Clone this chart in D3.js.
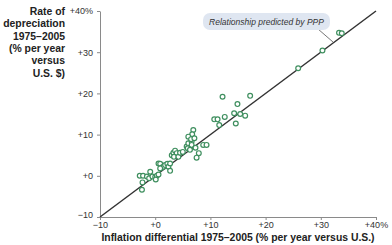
<!DOCTYPE html>
<html>
<head>
<meta charset="utf-8">
<script src="https://cdn.jsdelivr.net/npm/d3@7"></script>
<style>
  html, body { margin: 0; padding: 0; background: #fff; }
  svg { display: block; }
</style>
</head>
<body>
<div id="chart"></div>
<script>
// Inflation differential vs rate of depreciation, 1975-2005
const xTicks = [-10, 0, 10, 20, 30, 40];
const xTickLabels = ["\u221210", "+0", "+10", "+20", "+30", "+40%"];
const yTicks = [-10, 0, 10, 20, 30, 40];
const yTickLabels = ["\u221210", "+0", "+10", "+20", "+30", "+40%"];

// one entry per country (x = inflation differential, y = depreciation)
const inflationDiff = [
  -2.4, -2.3, -2.8, -2.2, -1.5, -0.9, -1.1, -0.5, 0.0, 0.3, 0.6, 0.1,
  0.6, 0.9, 1.2, 1.5, 1.8, 2.2, 2.4, 2.7, 2.7, 0.9,
  3.0, 3.3, 3.6, 3.9, 3.4, 4.2, 4.5, 5.0, 5.7, 6.0, 6.6,
  6.9, 6.7, 6.0, 6.5, 7.1, 6.6, 5.9, 7.3, 6.3, 8.7, 9.3, 7.9, 7.5,
  10.7, 11.3, 12.6, 14.3, 11.6, 12.2, 17.2, 14.9, 15.4, 16.3, 14.6,
  25.9, 30.3, 33.3, 33.8
];
const depreciation = [
  -3.4, -1.6, 0.0, 0.0, -0.2, 1.0, -0.6, -0.2, -0.3, 0.0, 0.3, -0.9,
  3.0, 2.9, 2.0, 2.2, 2.6, 2.9, 2.2, 3.0, 1.2, 1.8,
  5.0, 5.6, 6.1, 5.5, 4.6, 4.6, 5.6, 5.8, 7.1, 7.9, 8.3,
  11.1, 10.1, 9.5, 8.9, 9.1, 7.5, 6.7, 6.8, 6.3, 7.5, 7.5, 5.5, 4.4,
  13.7, 13.7, 14.3, 15.2, 12.3, 19.2, 19.4, 17.4, 15.0, 14.6, 12.7,
  26.1, 30.4, 34.7, 34.6
];

const yTitleLines = ["Rate of", "depreciation", "1975\u20132005", "(% per year", "versus", "U.S. $)"];
const xTitle = "Inflation differential 1975\u20132005 (% per year versus U.S.)";
const calloutText = "Relationship predicted by PPP";

const width = 392, height = 245;
const margin = { top: 11, right: 15, bottom: 28, left: 100 };

const svg = d3.select("#chart").append("svg")
  .attr("width", width)
  .attr("height", height);

const x = d3.scaleLinear().domain([-10, 40]).range([margin.left, width - margin.right - 1]);
const y = d3.scaleLinear().domain([-10, 40]).range([height - margin.bottom, margin.top]);

const font = "'Liberation Sans', Arial, sans-serif";

// axes
const xAxis = svg.append("g")
  .attr("transform", `translate(0,${y(-10)})`)
  .call(d3.axisBottom(x).tickValues(xTicks).tickSize(3).tickSizeOuter(0)
    .tickFormat((d, i) => xTickLabels[i]));
const yAxis = svg.append("g")
  .attr("transform", `translate(${x(-10)},0)`)
  .call(d3.axisLeft(y).tickValues(yTicks).tickSize(3).tickSizeOuter(0)
    .tickFormat((d, i) => yTickLabels[i]));

[xAxis, yAxis].forEach(g => {
  g.select(".domain").attr("stroke", "#8a8a8a").attr("stroke-width", 1);
  g.selectAll(".tick line").attr("stroke", "#8a8a8a");
  g.selectAll(".tick text")
    .attr("font-family", font)
    .attr("font-size", "9px")
    .attr("fill", "#333");
});
xAxis.selectAll(".tick text").attr("dy", "0.55em");
yAxis.selectAll(".tick text").attr("dx", "-0.1em");
yAxis.selectAll(".tick").filter(d => d === -10).select("text").attr("dy", "0.1em");

// PPP line (45 degrees)
svg.append("line")
  .attr("x1", x(-10)).attr("y1", y(-10))
  .attr("x2", x(40)).attr("y2", y(40))
  .attr("stroke", "#333")
  .attr("stroke-width", 1.5);

// points
svg.append("g").selectAll("circle")
  .data(inflationDiff.map((v, i) => [v, depreciation[i]]))
  .join("circle")
  .attr("cx", d => x(d[0]))
  .attr("cy", d => y(d[1]))
  .attr("r", 2.4)
  .attr("fill", "#fff")
  .attr("stroke", "#3f8f5f")
  .attr("stroke-width", 1.2);

// callout
svg.append("line")
  .attr("x1", 318).attr("y1", 29)
  .attr("x2", 333).attr("y2", 42)
  .attr("stroke", "#777")
  .attr("stroke-width", 1);
svg.append("rect")
  .attr("x", 203).attr("y", 13)
  .attr("width", 127).attr("height", 17)
  .attr("rx", 7)
  .attr("fill", "#dfe6f1");
svg.append("text")
  .attr("x", 266.5).attr("y", 24.5)
  .attr("text-anchor", "middle")
  .attr("font-family", font)
  .attr("font-style", "italic")
  .attr("font-size", "8.5px")
  .attr("fill", "#333")
  .text(calloutText);

// axis titles
svg.append("text")
  .attr("x", (x(-10) + x(40)) / 2)
  .attr("y", 241)
  .attr("text-anchor", "middle")
  .attr("font-family", font)
  .attr("font-weight", "bold")
  .attr("font-size", "10.4px")
  .attr("fill", "#222")
  .text(xTitle);

svg.append("g").selectAll("text")
  .data(yTitleLines)
  .join("text")
  .attr("x", 65)
  .attr("y", (d, i) => 15 + i * 12.3)
  .attr("text-anchor", "end")
  .attr("font-family", font)
  .attr("font-weight", "bold")
  .attr("font-size", "10.4px")
  .attr("fill", "#222")
  .text(d => d);
</script>
</body>
</html>
